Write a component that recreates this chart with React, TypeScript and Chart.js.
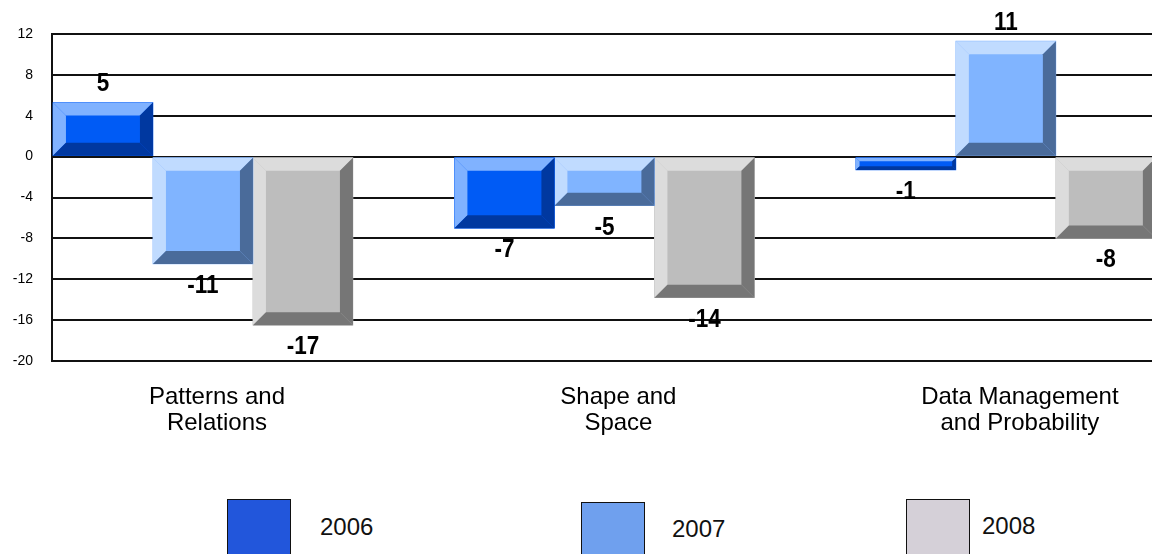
import React, { useEffect, useRef } from "react";
import { Chart, registerables } from "chart.js";

Chart.register(...registerables);

// ---- data ----
const categories: string[][] = [
  ["Patterns and", "Relations"],
  ["Shape and", "Space"],
  ["Data Management", "and Probability"],
];
const years = ["2006", "2007", "2008"];
const values2006 = [5.3, -7.0, -1.3];
const values2007 = [-10.5, -4.8, 11.3];
const values2008 = [-16.5, -13.8, -8.0];
const yMin = -20;
const yMax = 12;
const yStep = 4;

// ---- styles ----
const faceColors = ["#005BF5", "#80B4FF", "#BDBDBD"];
const lightColors = ["#80B2FF", "#C0DBFF", "#DCDCDC"];
const darkColors = ["#0038A0", "#4A6B9A", "#767676"];
const legendColors = ["#2256DB", "#6FA0EE", "#D5D0D8"];
const legendBoxLeft = [227, 581, 906];
const legendBoxTop = [499, 502, 499];
const legendTextLeft = [320, 672, 982];
const legendTextMid = [527, 529, 526];

const seriesValues = [values2006, values2007, values2008];

function poly(ctx: CanvasRenderingContext2D, pts: number[][], color: string) {
  ctx.beginPath();
  ctx.moveTo(pts[0][0], pts[0][1]);
  for (let i = 1; i < pts.length; i++) ctx.lineTo(pts[i][0], pts[i][1]);
  ctx.closePath();
  ctx.fillStyle = color;
  ctx.fill();
}

const bevelPlugin = {
  id: "bevel",
  afterDatasetDraw(chart: any, args: any) {
    const ctx: CanvasRenderingContext2D = chart.ctx;
    const area = chart.chartArea;
    const i = args.index;
    ctx.save();
    ctx.beginPath();
    ctx.rect(area.left, area.top, area.right - area.left, area.bottom - area.top + 1);
    ctx.clip();
    args.meta.data.forEach((el: any) => {
      const { x, y, base, width } = el.getProps(["x", "y", "base", "width"], true);
      const x0 = x - width / 2;
      const x1 = x + width / 2;
      const t = Math.min(y, base);
      const b = Math.max(y, base);
      const h = b - t;
      const bv = Math.min(13, h * 0.3, width / 2);
      poly(ctx, [[x0, t], [x1, t], [x1, b], [x0, b]], faceColors[i]);
      poly(ctx, [[x0, t], [x1, t], [x1 - bv, t + bv], [x0 + bv, t + bv]], lightColors[i]);
      poly(ctx, [[x0, t], [x0 + bv, t + bv], [x0 + bv, b - bv], [x0, b]], lightColors[i]);
      poly(ctx, [[x0, b], [x0 + bv, b - bv], [x1 - bv, b - bv], [x1, b]], darkColors[i]);
      poly(ctx, [[x1, t], [x1, b], [x1 - bv, b - bv], [x1 - bv, t + bv]], darkColors[i]);
    });
    ctx.restore();
  },
};

const valueLabelPlugin = {
  id: "valueLabels",
  afterDatasetsDraw(chart: any) {
    const ctx: CanvasRenderingContext2D = chart.ctx;
    chart.data.datasets.forEach((ds: any, di: number) => {
      const meta = chart.getDatasetMeta(di);
      meta.data.forEach((el: any, j: number) => {
        const v = ds.data[j].y as number;
        const { x, y } = el.getProps(["x", "y"], true);
        const ty = v >= 0 ? y - 18 : y + 22;
        ctx.save();
        ctx.translate(x, ty);
        ctx.scale(0.9, 1);
        ctx.font = "bold 25px Arial, 'Liberation Sans', sans-serif";
        ctx.fillStyle = "#000";
        ctx.textAlign = "center";
        ctx.textBaseline = "middle";
        ctx.fillText(Number(v).toFixed(0), 0, 0);
        ctx.restore();
      });
    });
  },
};

export default function App() {
  const ref = useRef<HTMLCanvasElement>(null);

  useEffect(() => {
    const canvas = ref.current!;
    const chart = new Chart(canvas, {
      type: "bar",
      data: {
        datasets: years.map((yr, i) => ({
          label: yr,
          data: seriesValues[i].map((v, k) => ({ x: k, y: v })),
          backgroundColor: faceColors[i],
          borderWidth: 0,
          barThickness: 100,
        })),
      },
      options: {
        responsive: false,
        animation: false,
        devicePixelRatio: 1,
        events: [],
        layout: { padding: { top: 34, left: 0, right: 0, bottom: 0 } },
        plugins: {
          legend: { display: false },
          tooltip: { enabled: false },
          title: { display: false },
        },
        scales: {
          x: {
            type: "linear",
            min: -0.376,
            max: 2.364,
            offset: false,
            grid: { display: false, drawTicks: false },
            border: { display: false },
            afterBuildTicks: (scale: any) => {
              scale.ticks = categories.map((_, k) => ({ value: k }));
            },
            afterFit: (scale: any) => {
              scale.height = 109;
            },
            ticks: {
              padding: 23,
              labelOffset: 14,
              maxRotation: 0,
              autoSkip: false,
              color: "#000",
              font: { family: "Arial, 'Liberation Sans', sans-serif", size: 24, lineHeight: 1.1 },
              callback: (v: any) => categories[Math.round(Number(v))] ?? "",
            },
          },
          y: {
            min: yMin,
            max: yMax,
            grid: { color: "#111", lineWidth: 2, drawTicks: false },
            border: { display: true, color: "#111", width: 2 },
            afterFit: (scale: any) => {
              scale.width = 52;
            },
            ticks: {
              stepSize: yStep,
              padding: 19,
              color: "#000",
              font: { family: "Arial, 'Liberation Sans', sans-serif", size: 14 },
            },
          },
        },
      },
      plugins: [bevelPlugin, valueLabelPlugin],
    } as any);
    return () => chart.destroy();
  }, []);

  return (
    <div
      style={{
        position: "fixed",
        left: 0,
        top: 0,
        width: 1152,
        height: 554,
        overflow: "hidden",
        background: "#fff",
        fontFamily: "Arial, 'Liberation Sans', sans-serif",
      }}
    >
      <canvas
        ref={ref}
        width={1152}
        height={470}
        style={{ position: "absolute", left: 0, top: 0, width: 1152, height: 470 }}
      />
      {years.map((yr, i) => (
        <React.Fragment key={yr}>
          <div
            style={{
              position: "absolute",
              left: legendBoxLeft[i],
              top: legendBoxTop[i],
              width: 62,
              height: 62,
              background: legendColors[i],
              border: "1px solid #111",
            }}
          />
          <div
            style={{
              position: "absolute",
              left: legendTextLeft[i],
              top: legendTextMid[i] - 14,
              height: 28,
              lineHeight: "28px",
              fontSize: 24,
              color: "#111",
              whiteSpace: "nowrap",
            }}
          >
            {yr}
          </div>
        </React.Fragment>
      ))}
    </div>
  );
}
